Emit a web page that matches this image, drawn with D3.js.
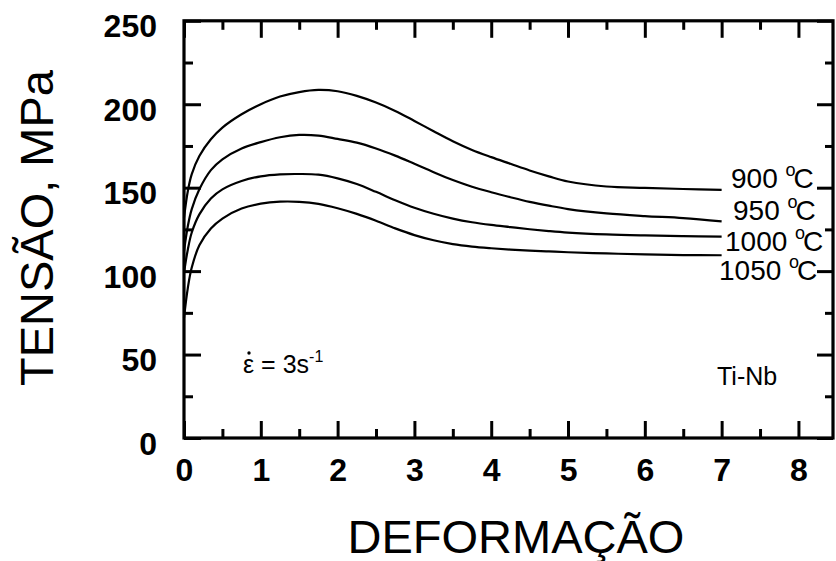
<!DOCTYPE html>
<html>
<head>
<meta charset="utf-8">
<script src="https://cdn.jsdelivr.net/npm/d3@7"></script>
<style>
	body { margin: 0; background: #fff; }
	svg { font-family: "Liberation Sans", Arial, sans-serif; }
</style>
</head>
<body>
<script>
// strain values shared by all curves
var strain = [0, 0.05, 0.1, 0.2, 0.35, 0.5, 0.75, 1, 1.25, 1.5, 1.75, 2, 2.25, 2.5, 2.75, 3, 3.25, 3.5, 3.75, 4, 4.25, 4.5, 4.75, 5, 5.5, 6, 6.5, 7];

// stress (MPa) per temperature
var stress900  = [132, 148, 158, 169, 179, 186, 194, 200, 204.6, 207.3, 208.6, 207.8, 205, 201, 196, 190, 183.8, 177.8, 172.6, 168.3, 164.3, 160.3, 156.8, 153.7, 150.7, 149.9, 149.2, 148.7];
var stress950  = [112, 127, 137, 149, 160.5, 167, 173.5, 177.3, 180.2, 181.6, 181.2, 179.2, 177, 173.5, 169.2, 164.3, 159.3, 154.6, 150.6, 147.3, 144.3, 141.5, 139.2, 137.2, 134.6, 133, 131.8, 129.8];
var stress1000 = [99, 113, 123, 134, 143.5, 149, 154, 156.8, 158, 158.2, 157.8, 155.6, 152.2, 147.5, 142.5, 138, 134.4, 131.5, 129.3, 127.7, 126.4, 125.1, 124, 123.1, 122, 121.4, 121, 120.7];
var stress1050 = [72, 90, 102, 115.5, 125.5, 131.5, 137.5, 140.4, 141.6, 141.5, 140.3, 137.7, 134.3, 130.2, 125.6, 121.6, 118.5, 116.2, 114.7, 113.7, 112.9, 112.3, 111.8, 111.3, 110.6, 110, 109.6, 109.5];

var temps = ["900", "950", "1000", "1050"];
var xTicks = [0, 1, 2, 3, 4, 5, 6, 7, 8];
var xMinor = [0.5, 1.5, 2.5, 3.5, 4.5, 5.5, 6.5, 7.5];
var yTicks = [0, 50, 100, 150, 200, 250];
var yMinor = [25, 75, 125, 175, 225];

var w = 836;
var h = 561;

var svg = d3.select("body")
			.append("svg")
			.attr("width", w)
			.attr("height", h);

var xScale = d3.scaleLinear()
				.domain([0, 8.45])
				.range([184, 833]);

var yScale = d3.scaleLinear()
				.domain([0, 250])
				.range([438, 20.8]);

var series = [stress900, stress950, stress1000, stress1050];

var line = d3.line()
			.x(function(d){ return xScale(d[0]); })
			.y(function(d){ return yScale(d[1]); })
			.curve(d3.curveCatmullRom.alpha(0.5));

svg.selectAll(".curve")
	.data(series)
	.enter()
	.append("path")
	.attr("class", "curve")
	.attr("fill", "none")
	.attr("stroke", "#000")
	.attr("stroke-width", 2.2)
	.attr("d", function(s){ return line(strain.map(function(x, i){ return [x, s[i]]; })); });

// ticks on all four sides, pointing inward
function styleAxis(g){
	g.select(".domain").remove();
	g.selectAll(".tick line").attr("stroke", "#000").attr("stroke-width", 3);
	g.selectAll(".tick text").attr("fill", "#000");
}

svg.append("g")
	.attr("transform", "translate(0,438)")
	.call(d3.axisBottom(xScale).tickValues(xTicks).tickSize(-17).tickPadding(20).tickFormat(d3.format("d")))
	.call(styleAxis)
	.selectAll("text")
	.attr("font-size", 32)
	.attr("font-weight", "bold")
	.attr("font-family", "Liberation Sans, Arial, sans-serif");

svg.append("g")
	.attr("transform", "translate(0,438)")
	.call(d3.axisBottom(xScale).tickValues(xMinor).tickSize(-9).tickFormat(""))
	.call(styleAxis);

svg.append("g")
	.attr("transform", "translate(0,20.8)")
	.call(d3.axisTop(xScale).tickValues(xTicks).tickSize(-17).tickFormat(""))
	.call(styleAxis);

svg.append("g")
	.attr("transform", "translate(0,20.8)")
	.call(d3.axisTop(xScale).tickValues(xMinor).tickSize(-9).tickFormat(""))
	.call(styleAxis);

svg.append("g")
	.attr("transform", "translate(184,0)")
	.call(d3.axisLeft(yScale).tickValues(yTicks).tickSize(-17).tickPadding(27).tickFormat(d3.format("d")))
	.call(styleAxis)
	.selectAll("text")
	.attr("dy", "0.5em")
	.attr("font-size", 32)
	.attr("font-weight", "bold")
	.attr("font-family", "Liberation Sans, Arial, sans-serif");

svg.append("g")
	.attr("transform", "translate(184,0)")
	.call(d3.axisLeft(yScale).tickValues(yMinor).tickSize(-9).tickFormat(""))
	.call(styleAxis);

svg.append("g")
	.attr("transform", "translate(833,0)")
	.call(d3.axisRight(yScale).tickValues(yTicks).tickSize(-16).tickFormat(""))
	.call(styleAxis);

svg.append("g")
	.attr("transform", "translate(833,0)")
	.call(d3.axisRight(yScale).tickValues(yMinor).tickSize(-8).tickFormat(""))
	.call(styleAxis);

// frame
svg.append("rect")
	.attr("x", 184)
	.attr("y", 20.8)
	.attr("width", 833 - 184)
	.attr("height", 438 - 20.8)
	.attr("fill", "none")
	.attr("stroke", "#000")
	.attr("stroke-width", 3.2);

// temperature labels at the curve ends
var labelPos = [[731, 188], [733, 220], [725, 251], [719, 280]];

var labels = svg.selectAll(".temp")
				.data(temps)
				.enter()
				.append("text")
				.attr("class", "temp")
				.attr("x", function(d, i){ return labelPos[i][0]; })
				.attr("y", function(d, i){ return labelPos[i][1]; })
				.attr("font-size", 28);

labels.append("tspan").text(function(d){ return d + " "; });
labels.append("tspan").attr("font-size", 18).attr("dy", -12).text("o");
labels.append("tspan").attr("dx", -2).attr("dy", 12).text("C");

// strain-rate note
var rate = svg.append("text")
				.attr("x", 243)
				.attr("y", 373)
				.attr("font-size", 25);
rate.append("tspan").text("ε = 3s");
rate.append("tspan").attr("font-size", 16).attr("dy", -11).text("-1");

svg.append("circle")
	.attr("cx", 249)
	.attr("cy", 353)
	.attr("r", 1.7)
	.attr("fill", "#000");

svg.append("text")
	.attr("x", 717)
	.attr("y", 385)
	.attr("font-size", 25)
	.text("Ti-Nb");

// axis titles
svg.append("text")
	.attr("x", 516)
	.attr("y", 553)
	.attr("text-anchor", "middle")
	.attr("font-size", 47)
	.text("DEFORMAÇÃO");

svg.append("text")
	.attr("transform", "translate(53,228) rotate(-90)")
	.attr("text-anchor", "middle")
	.attr("font-size", 47)
	.text("TENSÃO, MPa");
</script>
</body>
</html>
